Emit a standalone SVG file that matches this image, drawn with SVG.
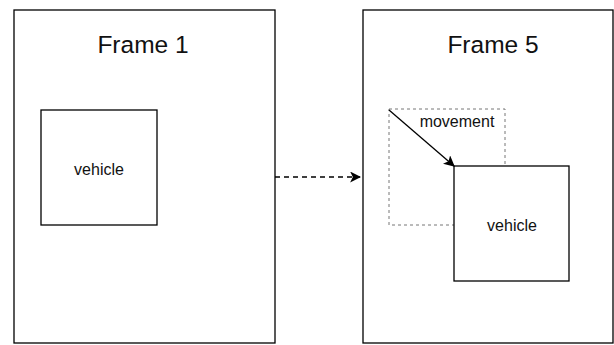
<svg xmlns="http://www.w3.org/2000/svg" width="614" height="345" viewBox="0 0 614 345">
<style>
.box{fill:#fff;stroke:#000;stroke-width:1.3}
.t{font-family:"Liberation Sans",Arial,sans-serif;fill:#111;text-anchor:middle}
</style>
<defs>
<marker id="ah" viewBox="0 0 10 10" refX="9" refY="5" markerWidth="11" markerHeight="11" markerUnits="userSpaceOnUse" orient="auto">
<path d="M0,0 L10,5 L0,10 L2.5,5 Z" fill="#000"/>
</marker>
</defs>
<rect width="614" height="345" fill="#fff"/>
<g id="frame1">
<rect class="box" x="14" y="10" width="261" height="333"/>
<text class="t" x="143" y="53" font-size="24.5">Frame 1</text>
</g>
<g id="vehicle1">
<rect class="box" x="41" y="110" width="116" height="115"/>
<text class="t" x="99" y="175" font-size="16">vehicle</text>
</g>
<g id="frame5">
<rect class="box" x="363" y="10" width="250" height="333"/>
<text class="t" x="493" y="53" font-size="24.5">Frame 5</text>
</g>
<g id="ghost">
<rect x="389" y="109" width="116" height="116" fill="none" stroke="#777" stroke-width="1" stroke-dasharray="3,3"/>
</g>
<g id="vehicle2">
<rect class="box" x="454" y="166" width="115" height="115"/>
<text class="t" x="512" y="231" font-size="16">vehicle</text>
</g>
<g id="connectors">
<line x1="275" y1="177" x2="360" y2="177" stroke="#000" stroke-width="1.3" stroke-dasharray="5,4" marker-end="url(#ah)"/>
<line x1="389" y1="110" x2="454" y2="166" stroke="#000" stroke-width="1.3" marker-end="url(#ah)"/>
<text class="t" x="457" y="127" font-size="16">movement</text>
</g>
</svg>
